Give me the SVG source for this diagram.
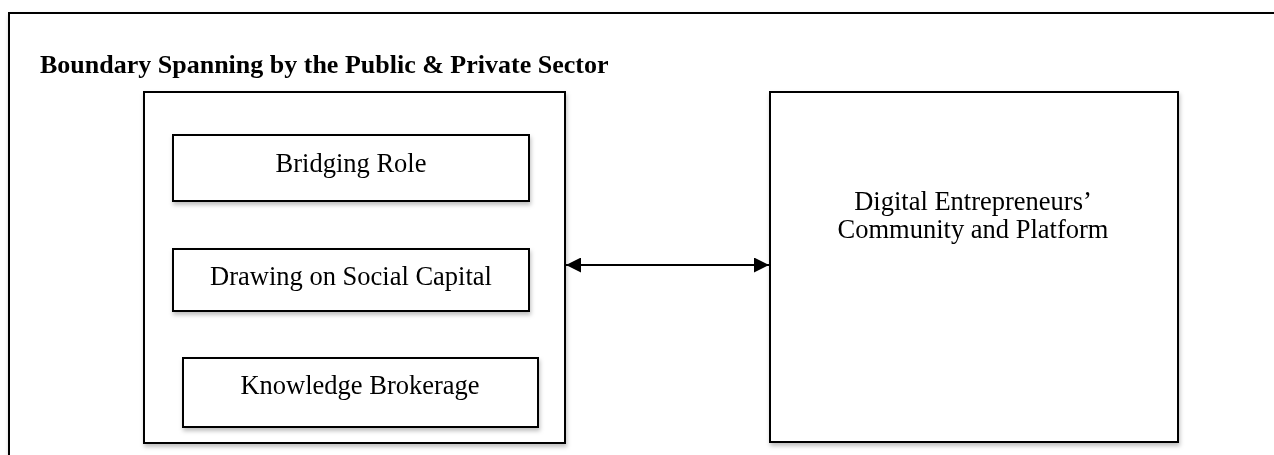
<svg xmlns="http://www.w3.org/2000/svg" width="1274" height="455" viewBox="0 0 1274 455">
<style>
.box{fill:#fff;stroke:#000;stroke-width:2}
.lbl{font-family:"Liberation Serif","Times New Roman",serif;font-size:26.5px;fill:#000;text-anchor:middle}
.title{font-family:"Liberation Serif","Times New Roman",serif;font-size:26px;font-weight:bold;fill:#000}
</style>
<defs>
<filter id="sh" x="-10%" y="-10%" width="120%" height="130%">
<feDropShadow dx="1" dy="3" stdDeviation="2" flood-color="#000" flood-opacity="0.25"/>
</filter>
<marker id="ah" viewBox="0 0 10 10" refX="10" refY="5" markerWidth="15" markerHeight="15" markerUnits="userSpaceOnUse" orient="auto-start-reverse">
<path d="M0,0 L10,5 L0,10 z" fill="#000"/>
</marker>
</defs>
<rect width="1274" height="455" fill="#fff"/>
<g id="outer" filter="url(#sh)">
<rect class="box" x="9" y="13" width="1290" height="460"/>
<text class="title" x="40" y="73">Boundary Spanning by the Public &amp; Private Sector</text>
</g>
<g id="left-group" filter="url(#sh)">
<rect class="box" x="144" y="92" width="421" height="351"/>
</g>
<g id="bridging" filter="url(#sh)">
<rect class="box" x="173" y="135" width="356" height="66"/>
<text class="lbl" x="351" y="172">Bridging Role</text>
</g>
<g id="drawing" filter="url(#sh)">
<rect class="box" x="173" y="249" width="356" height="62"/>
<text class="lbl" x="351" y="285">Drawing on Social Capital</text>
</g>
<g id="knowledge" filter="url(#sh)">
<rect class="box" x="183" y="358" width="355" height="69"/>
<text class="lbl" x="360" y="394">Knowledge Brokerage</text>
</g>
<g id="digital" filter="url(#sh)">
<rect class="box" x="770" y="92" width="408" height="350"/>
<text class="lbl" x="973" y="210">Digital Entrepreneurs’</text>
<text class="lbl" x="973" y="238">Community and Platform</text>
</g>
<g id="connectors">
<line x1="566" y1="265" x2="769" y2="265" stroke="#000" stroke-width="2" marker-start="url(#ah)" marker-end="url(#ah)"/>
</g>
</svg>
